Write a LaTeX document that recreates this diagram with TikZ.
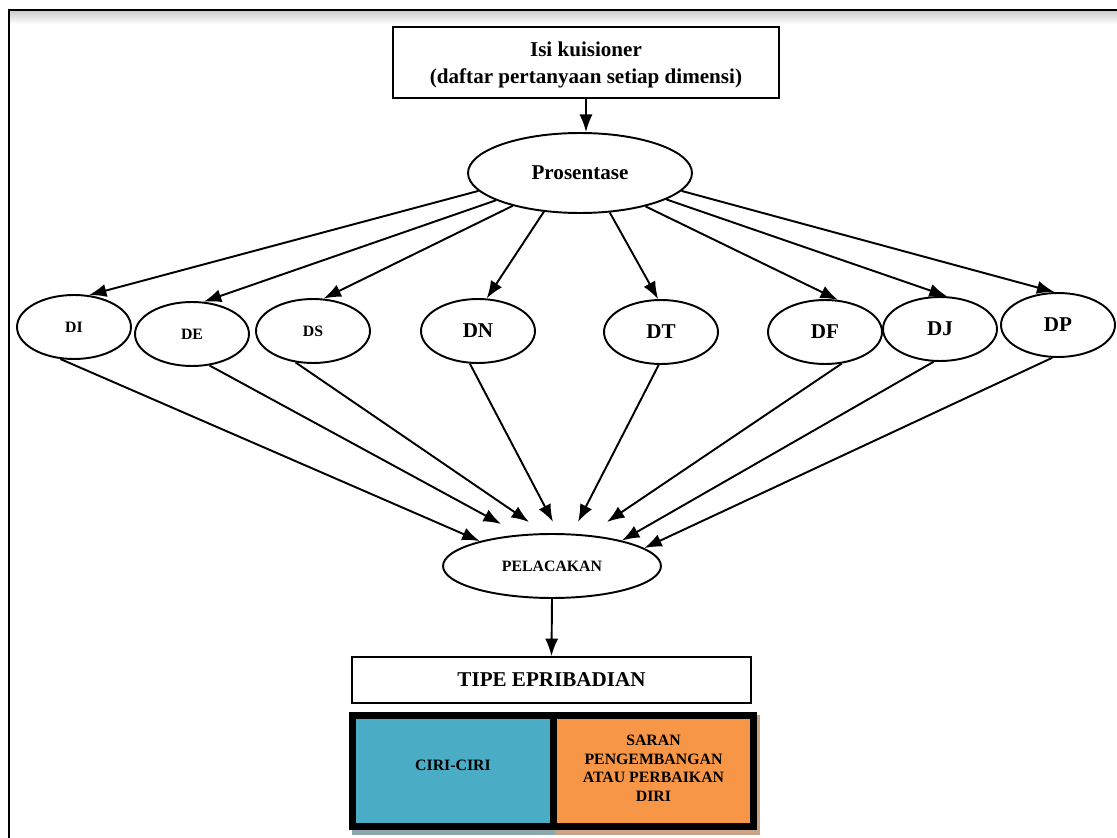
\documentclass[tikz,border=0pt]{standalone}
\usepackage{fontspec}
\setmainfont{Liberation Serif}
\usepackage{xcolor}
\usetikzlibrary{arrows.meta}
\usetikzlibrary{shapes.geometric}
\usetikzlibrary{positioning}

\definecolor{cirifill}{HTML}{4BACC6}
\definecolor{saranfill}{HTML}{F79646}
\definecolor{ciridrop}{HTML}{8DA7AF}
\definecolor{sarandrop}{HTML}{C9A386}

\begin{document}
\begin{tikzpicture}[x=0.02cm,y=-0.02cm]
	%\draw[help lines] (0,0) grid (1117,838);
	
	\tikzstyle{dnode} = [ellipse,draw,line width=1.1pt,fill=white,minimum width=2.28cm,minimum height=1.28cm,inner sep=0pt,font=\fontsize{12}{14}\selectfont\bfseries]
	\tikzstyle{small} = [font=\fontsize{9}{11}\selectfont\bfseries]
	\tikzstyle{bnode} = [rectangle,draw,fill=white,align=center,font=\fontsize{12}{15.4}\selectfont\bfseries]
	\tikzstyle{cell} = [rectangle,draw=black,line width=4pt,minimum height=2.22cm,align=center,font=\fontsize{9}{10.6}\selectfont\bfseries]
	\tikzstyle{vedge} = [->,>={Latex[length=10pt,width=7.5pt]},line width=1.1pt]
	
	\useasboundingbox (0,0) rectangle (1117,838);
	\fill[top color=black!20,bottom color=white] (9,11) rectangle (1117,24);
	\draw[line width=1.4pt] (9,850) -- (9,10) -- (1130,10);
	
	\node[bnode,line width=1.1pt,minimum width=7.72cm,minimum height=1.42cm,text depth=-2pt] (kuis) at (586,62.5) {Isi kuisioner\\(daftar pertanyaan setiap dimensi)};
	\node[dnode,minimum width=4.48cm,minimum height=1.6cm] (pros) at (580,173) {Prosentase};
	
	\node[dnode,small] (di) at (74,327) {DI};
	\node[dnode,small] (de) at (192,334) {DE};
	\node[dnode,small] (ds) at (313,331) {DS};
	\node[dnode] (dn) at (478,331) {DN};
	\node[dnode] (dt) at (661,332) {DT};
	\node[dnode] (df) at (825,332) {DF};
	\node[dnode] (dj) at (940,329) {DJ};
	\node[dnode] (dp) at (1058,325) {DP};
	
	\node[dnode,small,minimum width=4.36cm] (pel) at (552,566) {PELACAKAN};
	\node[bnode,line width=1pt,minimum width=7.98cm,minimum height=0.92cm] (tipe) at (551.5,680) {TIPE EPRIBADIAN};
	
	\fill[ciridrop] (352,715) rectangle (555,835);
	\fill[sarandrop] (555,715) rectangle (760,835);
	\node[cell,fill=cirifill,minimum width=4.02cm] (ciri) at (453,771) {\raisebox{7pt}{CIRI-CIRI}};
	\node[cell,fill=saranfill,minimum width=4cm,text depth=3pt] (saran) at (653.5,771) {SARAN\\PENGEMBANGAN\\ATAU PERBAIKAN\\DIRI};
	
	\coordinate (inde) at (501,524);
	\coordinate (inds) at (529,522);
	\coordinate (indn) at (553,522);
	\coordinate (indt) at (578,522);
	\coordinate (indf) at (607,522);
	
	\draw (kuis.south) edge [vedge] (kuis.south |- pros.north);
	
	\draw (pros.190) edge [vedge] (di.65);
	\draw (pros.198) edge [vedge] (de.70);
	\draw (pros.206) edge [vedge] (ds.72);
	\draw (pros.227) edge [vedge] (dn.75);
	\draw (pros.307) edge [vedge] (dt.95);
	\draw (pros.333) edge [vedge] (df.68);
	\draw (pros.343) edge [vedge] (dj.78);
	\draw (pros.350) edge [vedge] (dp.96);
	
	\draw (di.247) edge [vedge] (pel.161);
	\draw (de.299) edge [vedge] (inde);
	\draw (ds.241) edge [vedge] (inds);
	\draw (dn.256) edge [vedge] (indn);
	\draw (dt.266) edge [vedge] (indt);
	\draw (df.298) edge [vedge] (indf);
	\draw (dj.259) edge [vedge] (pel.20);
	\draw (dp.260) edge [vedge] (pel.11);
	
	\draw (pel.south) edge [vedge] (tipe.north);

\end{tikzpicture}
\end{document}
